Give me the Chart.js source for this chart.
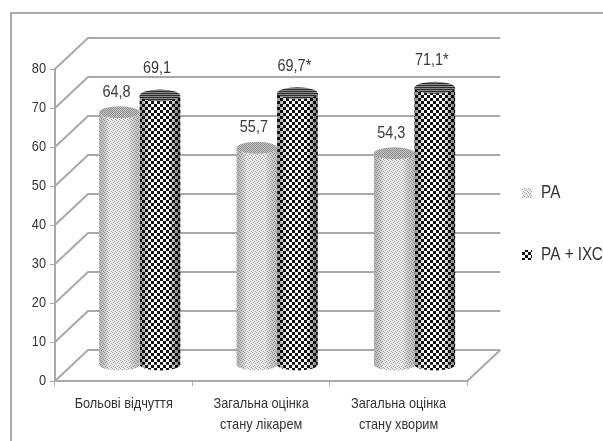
<!DOCTYPE html>
<html lang="uk">
<head>
  <meta charset="UTF-8">
  <title>Chart</title>
  <script src="https://cdn.jsdelivr.net/npm/chart.js"></script>
  <style>
    html, body { margin: 0; padding: 0; background: #fff; }
    canvas { display: block; }
  </style>
</head>
<body>
  <canvas id="chart" width="603" height="441"></canvas>

  <script>
    const categories = ['Больові відчуття', ['Загальна оцінка', 'стану лікарем'], ['Загальна оцінка', 'стану хворим']];
    const seriesNames = ['РА', 'РА + ІХС'];
    const paValues = [64.8, 55.7, 54.3];
    const paIhsValues = [69.1, 69.7, 71.1];
    const paLabels = ['64,8', '55,7', '54,3'];
    const paIhsLabels = ['69,1', '69,7*', '71,1*'];
    const yTicks = [0, 10, 20, 30, 40, 50, 60, 70, 80];

    const FONT = '"Liberation Sans", sans-serif';
    const GRID = '#a9a9a9';
    const DEPTH_X = 33, DEPTH_Y = 31;   // back wall offset
    const BAR_X = 16, BAR_Y = 16;       // bars stand halfway into the floor
    const CAP = 6;
    const NARROW = 0.85;                // reference uses a condensed face

    const canvas = document.getElementById('chart');
    const context = canvas.getContext('2d');
    const rawFillText = context.fillText.bind(context);
    context.fillText = (text, x, y) => rawFillText(text, x, y, context.measureText(text).width * NARROW);

    const tile = (size, paint) => {
      const c = document.createElement('canvas');
      c.width = c.height = size;
      paint(c.getContext('2d'));
      return c.getContext('2d').createPattern(c, 'repeat');
    };

    const dots = tile(4, g => {
      g.fillStyle = '#ececec'; g.fillRect(0, 0, 4, 4);
      g.fillStyle = '#a0a0a0';
      g.fillRect(0, 0, 1, 1); g.fillRect(2, 1, 1, 1); g.fillRect(1, 2, 1, 1); g.fillRect(3, 3, 1, 1);
    });
    const dotsCap = tile(2, g => {
      g.fillStyle = '#c4c4c4'; g.fillRect(0, 0, 2, 2);
      g.fillStyle = '#8e8e8e'; g.fillRect(0, 0, 1, 1); g.fillRect(1, 1, 1, 1);
    });
    const checks = tile(6, g => {
      g.fillStyle = '#fff'; g.fillRect(0, 0, 6, 6);
      g.fillStyle = '#111';
      g.fillRect(0, 0, 3, 3); g.fillRect(3, 3, 3, 3);
    });
    const stripes = tile(2, g => {
      g.fillStyle = '#8a8a8a'; g.fillRect(0, 0, 2, 1);
      g.fillStyle = '#2e2e2e'; g.fillRect(0, 1, 2, 1);
    });

    const wallsPlugin = {
      id: 'walls',
      beforeDatasetsDraw(chart) {
        const { ctx, scales: { x, y } } = chart;
        const left = x.left, right = x.right;
        ctx.save();
        ctx.strokeStyle = GRID;
        ctx.lineWidth = 2;

        // picture frame
        ctx.beginPath();
        ctx.moveTo(11, 441); ctx.lineTo(11, 13); ctx.lineTo(603, 13);
        ctx.stroke();

        // side wall and back wall lines
        yTicks.forEach(v => {
          const py = y.getPixelForValue(v);
          ctx.beginPath();
          ctx.moveTo(left, py);
          ctx.lineTo(left + DEPTH_X, py - DEPTH_Y);
          ctx.lineTo(right + DEPTH_X, py - DEPTH_Y);
          ctx.stroke();
        });

        // floor
        const p0 = y.getPixelForValue(0);
        ctx.beginPath();
        ctx.moveTo(right + DEPTH_X, p0 - DEPTH_Y);
        ctx.lineTo(right, p0);
        ctx.lineTo(left, p0);
        ctx.stroke();
        ctx.restore();

        ctx.save();
        ctx.translate(BAR_X, -BAR_Y);
      },
      afterDatasetDraw(chart, args) {
        const { ctx } = chart;
        const dark = args.index === 1;
        args.meta.data.forEach(bar => {
          const { x, y, base, width } = bar.getProps(['x', 'y', 'base', 'width'], true);
          const rx = width / 2;

          // rounded foot, same fill as the body
          ctx.fillStyle = dark ? checks : dots;
          ctx.beginPath();
          ctx.ellipse(x, base, rx, CAP, 0, 0, Math.PI);
          ctx.fill();

          // cylinder shading
          const shade = ctx.createLinearGradient(x - rx, 0, x + rx, 0);
          shade.addColorStop(0, dark ? 'rgba(0,0,0,.45)' : 'rgba(90,90,90,.35)');
          shade.addColorStop(0.25, 'rgba(0,0,0,0)');
          shade.addColorStop(0.7, 'rgba(0,0,0,0)');
          shade.addColorStop(1, dark ? 'rgba(0,0,0,.55)' : 'rgba(90,90,90,.3)');
          ctx.fillStyle = shade;
          ctx.beginPath();
          ctx.moveTo(x - rx, y);
          ctx.lineTo(x - rx, base);
          ctx.ellipse(x, base, rx, CAP, 0, Math.PI, 0, true);
          ctx.lineTo(x + rx, y);
          ctx.closePath();
          ctx.fill();

          // top
          ctx.fillStyle = dark ? stripes : dotsCap;
          ctx.beginPath();
          ctx.ellipse(x, y, rx, CAP, 0, 0, Math.PI * 2);
          ctx.fill();
        });
      },
      afterDatasetsDraw(chart) {
        const { ctx } = chart;
        ctx.restore();

        // value labels
        ctx.save();
        ctx.font = '17px ' + FONT;
        ctx.fillStyle = '#3a3a3a';
        ctx.textAlign = 'center';
        ctx.textBaseline = 'middle';
        [paLabels, paIhsLabels].forEach((labels, s) => {
          chart.getDatasetMeta(s).data.forEach((bar, i) => {
            ctx.fillText(labels[i], bar.x + BAR_X - 3, bar.y - BAR_Y - (s === 0 ? 20 : 27));
          });
        });
        ctx.restore();
      },
      afterLayout(chart) {
        const legend = chart.legend;
        legend.left = 478;
        legend.top -= 31;
        legend.bottom -= 31;
      }
    };

    new Chart(canvas, {
      type: 'bar',
      data: {
        labels: categories,
        datasets: [
          { label: seriesNames[0], data: paValues, backgroundColor: dots, clip: false },
          { label: seriesNames[1], data: paIhsValues, backgroundColor: checks, clip: false }
        ]
      },
      options: {
        responsive: false,
        animation: false,
        events: [],
        categoryPercentage: 0.59,
        barPercentage: 1,
        layout: { padding: { top: 69, left: 0, right: -10, bottom: 0 } },
        plugins: {
          tooltip: { enabled: false },
          legend: {
            position: 'right',
            labels: {
              font: { family: FONT, size: 18 },
              color: '#333',
              boxWidth: 10,
              boxHeight: 10,
              padding: 44
            }
          }
        },
        scales: {
          x: {
            grid: { drawOnChartArea: false, color: GRID, lineWidth: 1, tickLength: 5, offset: true },
            border: { color: GRID, width: 2 },
            ticks: {
              maxRotation: 0,
              autoSkip: false,
              padding: 8,
              color: '#333',
              font: { family: FONT, size: 15, lineHeight: 1.35 }
            },
            afterFit(scale) { scale.height = 60; }
          },
          y: {
            min: 0,
            max: 80,
            afterBuildTicks(scale) { scale.ticks = yTicks.map(v => ({ value: v })); },
            grid: { drawOnChartArea: false, color: GRID, lineWidth: 1, tickLength: 5 },
            border: { color: GRID, width: 2 },
            ticks: {
              padding: 4,
              color: '#333',
              font: { family: FONT, size: 15 }
            },
            afterFit(scale) { scale.width = 55; }
          }
        }
      },
      plugins: [wallsPlugin]
    });
  </script>
</body>
</html>
